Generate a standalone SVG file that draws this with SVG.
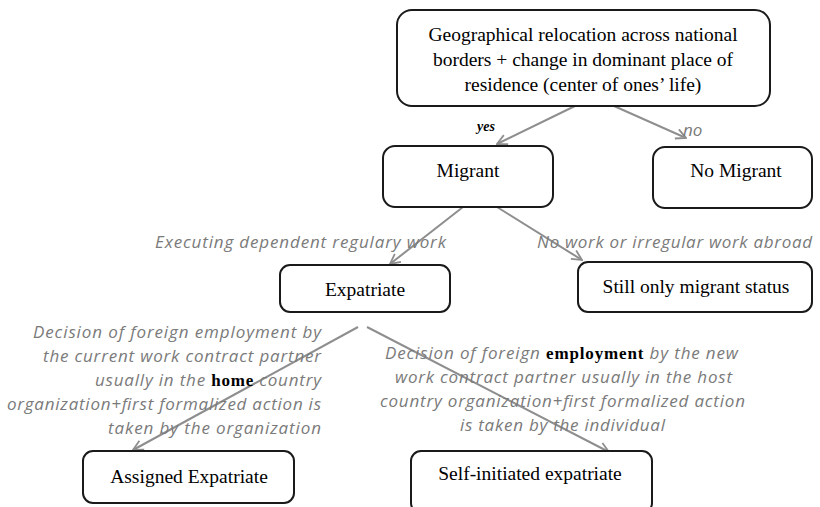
<svg xmlns="http://www.w3.org/2000/svg" width="820" height="507" viewBox="0 0 820 507">
<style>
.box{fill:#fff;stroke:#1a1a1a;stroke-width:2}
.bt{font-family:"Liberation Serif","Times New Roman",serif;font-size:19.5px;fill:#000;text-anchor:middle}
.lab{font-family:"Open Sans","DejaVu Sans",sans-serif;font-style:italic;font-size:17px;fill:#7a7a7a}
.b{font-family:"Liberation Serif",serif;font-weight:bold;fill:#000}
.con{stroke:#8e8e8e;stroke-width:2;fill:none}
</style>
<defs>
<marker id="ah" viewBox="0 0 12 12" refX="11" refY="6" markerWidth="12" markerHeight="12" markerUnits="userSpaceOnUse" orient="auto">
<path d="M1,1 L11,6 L1,11" fill="none" stroke="#8e8e8e" stroke-width="1.8"/>
</marker>
</defs>
<g id="connectors">
<line class="con" x1="575" y1="106" x2="497" y2="144" marker-end="url(#ah)"/>
<line class="con" x1="614" y1="106" x2="686" y2="138" marker-end="url(#ah)"/>
<line class="con" x1="463" y1="207" x2="390" y2="264" marker-end="url(#ah)"/>
<line class="con" x1="497" y1="207" x2="582" y2="260" marker-end="url(#ah)"/>
<line class="con" x1="358" y1="327" x2="133" y2="450" marker-end="url(#ah)"/>
<line class="con" x1="367" y1="327" x2="609" y2="452" marker-end="url(#ah)"/>
<text class="b" x="477" y="131" font-size="14" font-style="italic">yes</text>
<text class="lab" x="683" y="136" font-size="15">no</text>
<text class="lab" x="155" y="248" textLength="291" lengthAdjust="spacing">Executing dependent regulary work</text>
<text class="lab" x="537" y="248" textLength="275" lengthAdjust="spacing">No work or irregular work abroad</text>
<text class="lab">
<tspan x="33" y="338" textLength="288" lengthAdjust="spacing">Decision of foreign employment by</tspan>
<tspan x="43" y="362" textLength="278" lengthAdjust="spacing">the current work contract partner</tspan>
<tspan x="95" y="386" textLength="226" lengthAdjust="spacing">usually in the <tspan class="b" font-style="normal">home</tspan> country</tspan>
<tspan x="7" y="410" textLength="314" lengthAdjust="spacing">organization+first formalized action is</tspan>
<tspan x="108" y="434" textLength="213" lengthAdjust="spacing">taken by the organization</tspan>
</text>
<text class="lab">
<tspan x="385" y="359" textLength="353" lengthAdjust="spacing">Decision of foreign <tspan class="b" font-style="normal">employment</tspan> by the new</tspan>
<tspan x="395" y="383" textLength="337" lengthAdjust="spacing">work contract partner usually in the host</tspan>
<tspan x="380" y="407" textLength="365" lengthAdjust="spacing">country organization+first formalized action</tspan>
<tspan x="460" y="431" textLength="205" lengthAdjust="spacing">is taken by the individual</tspan>
</text>
</g>
<g id="n-top">
<rect class="box" x="397" y="10" width="373" height="96" rx="15"/>
<text class="bt"><tspan x="583" y="41">Geographical relocation across national</tspan><tspan x="583" y="66">borders + change in dominant place of</tspan><tspan x="583" y="91">residence (center of ones’ life)</tspan></text>
</g>
<g id="n-migrant">
<rect class="box" x="383" y="146" width="170" height="61" rx="12"/>
<text class="bt" x="468" y="177">Migrant</text>
</g>
<g id="n-nomigrant">
<rect class="box" x="653" y="147" width="159" height="61" rx="12"/>
<text class="bt" x="736" y="177">No Migrant</text>
</g>
<g id="n-expatriate">
<rect class="box" x="280" y="265" width="170" height="47" rx="10"/>
<text class="bt" x="365" y="296">Expatriate</text>
</g>
<g id="n-still">
<rect class="box" x="578" y="262" width="234" height="50" rx="10"/>
<text class="bt" x="696" y="293">Still only migrant status</text>
</g>
<g id="n-assigned">
<rect class="box" x="83" y="451" width="211" height="52" rx="10"/>
<text class="bt" x="189" y="483">Assigned Expatriate</text>
</g>
<g id="n-self">
<rect class="box" x="411" y="451" width="241" height="62" rx="10"/>
<text class="bt" x="530" y="480">Self-initiated expatriate</text>
</g>
</svg>
